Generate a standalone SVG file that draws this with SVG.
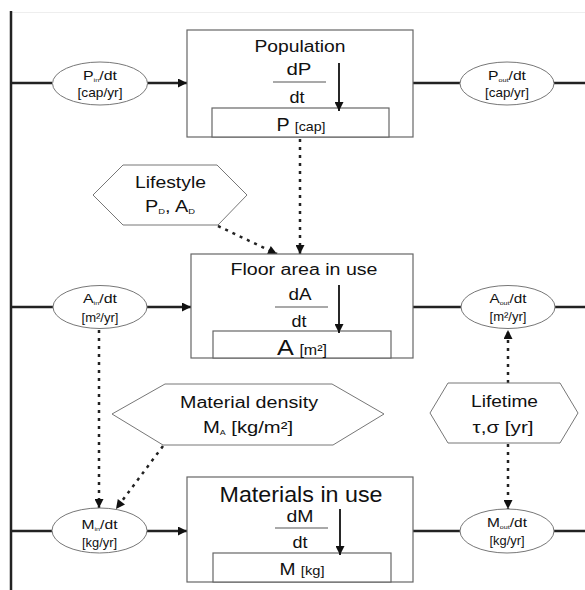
<svg xmlns="http://www.w3.org/2000/svg" width="585" height="590" viewBox="0 0 585 590">
<style>
  text { font-family: "Liberation Sans", Arial, sans-serif; fill: #111; text-anchor: middle; }
  .box { fill: #fff; stroke: #666; stroke-width: 1.2; }
  .ell { fill: #fff; stroke: #777; stroke-width: 1; }
  .hex { fill: #fff; stroke: #777; stroke-width: 1; }
  .flow { stroke: #222; stroke-width: 2.5; fill: none; }
  .dot { stroke: #222; stroke-width: 2.5; fill: none; stroke-dasharray: 3 5; }
  .frac { stroke: #555; stroke-width: 1.2; }
  .rate { stroke: #111; stroke-width: 1.8; }
</style>
<defs>
  <marker id="ah" viewBox="0 0 10 10" refX="10" refY="5" markerWidth="11" markerHeight="9" markerUnits="userSpaceOnUse" orient="auto">
    <path d="M0,0 L10,5 L0,10 z" fill="#111"/>
  </marker>
</defs>
<rect width="585" height="590" fill="#fff"/>
<line x1="11" y1="12.5" x2="585" y2="12.5" stroke="#eee" stroke-width="1"/>

<g id="connectors">
  <line class="flow" x1="11" y1="11" x2="11" y2="590"/>
  <line class="flow" x1="11" y1="83" x2="52" y2="83"/>
  <line class="flow" x1="147" y1="83" x2="187" y2="83" marker-end="url(#ah)"/>
  <line class="flow" x1="413" y1="83" x2="460" y2="83"/>
  <line class="flow" x1="554" y1="83" x2="585" y2="83"/>
  <line class="flow" x1="11" y1="307" x2="53" y2="307"/>
  <line class="flow" x1="147" y1="307" x2="191" y2="307" marker-end="url(#ah)"/>
  <line class="flow" x1="413" y1="307" x2="461" y2="307"/>
  <line class="flow" x1="555" y1="307" x2="585" y2="307"/>
  <line class="flow" x1="11" y1="531" x2="52" y2="531"/>
  <line class="flow" x1="147" y1="531" x2="187" y2="531" marker-end="url(#ah)"/>
  <line class="flow" x1="413" y1="531" x2="460" y2="531"/>
  <line class="flow" x1="554" y1="531" x2="585" y2="531"/>
  <line class="dot" x1="300" y1="139" x2="300" y2="254" marker-end="url(#ah)"/>
  <line class="dot" x1="218" y1="226" x2="277" y2="254" marker-end="url(#ah)"/>
  <line class="dot" x1="99" y1="330" x2="99" y2="508" marker-end="url(#ah)"/>
  <line class="dot" x1="163" y1="446" x2="116" y2="509" marker-end="url(#ah)"/>
  <line class="dot" x1="508" y1="383" x2="508" y2="330" marker-end="url(#ah)"/>
  <line class="dot" x1="508" y1="444" x2="508" y2="509" marker-end="url(#ah)"/>
</g>

<g id="population">
  <rect class="box" x="187" y="30" width="226" height="107"/>
  <rect class="box" x="212" y="108" width="177" height="29"/>
  <text x="300" y="52" font-size="16" textLength="91" lengthAdjust="spacingAndGlyphs">Population</text>
  <text x="299" y="75" font-size="16" textLength="25" lengthAdjust="spacingAndGlyphs">dP</text>
  <line class="frac" x1="273" y1="82" x2="326" y2="82"/>
  <text x="297" y="103" font-size="16" textLength="15" lengthAdjust="spacingAndGlyphs">dt</text>
  <line class="rate" x1="339" y1="63" x2="339" y2="111" marker-end="url(#ah)"/>
  <text x="301" y="131" font-size="18" textLength="49" lengthAdjust="spacingAndGlyphs">P <tspan font-size="13">[cap]</tspan></text>
</g>

<g id="floor-area">
  <rect class="box" x="191" y="254" width="222" height="104"/>
  <rect class="box" x="213" y="331" width="178" height="27"/>
  <text x="304" y="275" font-size="16" textLength="147" lengthAdjust="spacingAndGlyphs">Floor area in use</text>
  <text x="300" y="300" font-size="16" textLength="23" lengthAdjust="spacingAndGlyphs">dA</text>
  <line class="frac" x1="275" y1="307" x2="328" y2="307"/>
  <text x="299" y="327" font-size="16" textLength="15" lengthAdjust="spacingAndGlyphs">dt</text>
  <line class="rate" x1="339" y1="285" x2="339" y2="333" marker-end="url(#ah)"/>
  <text x="302" y="355" font-size="22" textLength="50" lengthAdjust="spacingAndGlyphs">A <tspan font-size="14">[m²]</tspan></text>
</g>

<g id="materials">
  <rect class="box" x="187" y="477" width="226" height="105"/>
  <rect class="box" x="213" y="553" width="178" height="29"/>
  <text x="301" y="502" font-size="22" textLength="163" lengthAdjust="spacingAndGlyphs">Materials in use</text>
  <text x="300" y="522" font-size="16" textLength="27" lengthAdjust="spacingAndGlyphs">dM</text>
  <line class="frac" x1="275" y1="528" x2="328" y2="528"/>
  <text x="300" y="548" font-size="16" textLength="15" lengthAdjust="spacingAndGlyphs">dt</text>
  <line class="rate" x1="340" y1="509" x2="340" y2="555" marker-end="url(#ah)"/>
  <text x="302" y="575" font-size="17" textLength="45" lengthAdjust="spacingAndGlyphs">M <tspan font-size="13">[kg]</tspan></text>
</g>

<g id="p-in">
  <ellipse class="ell" cx="100" cy="83.5" rx="47.5" ry="21.5"/>
  <text x="100" y="80" font-size="13" textLength="34" lengthAdjust="spacingAndGlyphs">P<tspan font-size="6" dy="2">in</tspan><tspan dy="-2">/dt</tspan></text>
  <text x="100" y="97" font-size="13" textLength="45" lengthAdjust="spacingAndGlyphs">[cap/yr]</text>
</g>
<g id="p-out">
  <ellipse class="ell" cx="507" cy="83.5" rx="47" ry="21.5"/>
  <text x="507" y="80" font-size="13" textLength="38" lengthAdjust="spacingAndGlyphs">P<tspan font-size="6" dy="2">out</tspan><tspan dy="-2">/dt</tspan></text>
  <text x="507" y="97" font-size="13" textLength="44" lengthAdjust="spacingAndGlyphs">[cap/yr]</text>
</g>
<g id="a-in">
  <ellipse class="ell" cx="100" cy="307" rx="47" ry="21.5"/>
  <text x="100" y="303" font-size="13" textLength="34" lengthAdjust="spacingAndGlyphs">A<tspan font-size="6" dy="2">in</tspan><tspan dy="-2">/dt</tspan></text>
  <text x="100" y="322" font-size="13" textLength="37" lengthAdjust="spacingAndGlyphs">[m²/yr]</text>
</g>
<g id="a-out">
  <ellipse class="ell" cx="508" cy="307" rx="47" ry="21.5"/>
  <text x="508" y="303" font-size="13" textLength="37" lengthAdjust="spacingAndGlyphs">A<tspan font-size="6" dy="2">out</tspan><tspan dy="-2">/dt</tspan></text>
  <text x="508" y="321" font-size="13" textLength="37" lengthAdjust="spacingAndGlyphs">[m²/yr]</text>
</g>
<g id="m-in">
  <ellipse class="ell" cx="99.5" cy="530.5" rx="47.5" ry="22.5"/>
  <text x="99.5" y="529" font-size="13" textLength="36" lengthAdjust="spacingAndGlyphs">M<tspan font-size="6" dy="2">in</tspan><tspan dy="-2">/dt</tspan></text>
  <text x="99.5" y="547" font-size="12" textLength="35" lengthAdjust="spacingAndGlyphs">[kg/yr]</text>
</g>
<g id="m-out">
  <ellipse class="ell" cx="507" cy="531" rx="47" ry="22"/>
  <text x="507" y="527" font-size="13" textLength="40" lengthAdjust="spacingAndGlyphs">M<tspan font-size="6" dy="2">out</tspan><tspan dy="-2">/dt</tspan></text>
  <text x="507" y="545" font-size="12" textLength="35" lengthAdjust="spacingAndGlyphs">[kg/yr]</text>
</g>

<g id="lifestyle">
  <polygon class="hex" points="123,165 217,165 247,195 218,225 123,225 93,195"/>
  <text x="170.5" y="188" font-size="17" textLength="71" lengthAdjust="spacingAndGlyphs">Lifestyle</text>
  <text x="170" y="212" font-size="17" textLength="50" lengthAdjust="spacingAndGlyphs">P<tspan font-size="8" dy="2">D</tspan><tspan dy="-2">, A</tspan><tspan font-size="8" dy="2">D</tspan></text>
</g>

<g id="material-density">
  <polygon class="hex" points="165,384 332,384 384,414 333,445 163,445 112,414"/>
  <text x="249" y="408" font-size="16" textLength="138" lengthAdjust="spacingAndGlyphs">Material density</text>
  <text x="248" y="433" font-size="16" textLength="90" lengthAdjust="spacingAndGlyphs">M<tspan font-size="7" dy="2">A</tspan><tspan dy="-2"> [kg/m²]</tspan></text>
</g>

<g id="lifetime">
  <polygon class="hex" points="448,383 560,383 578,413 560,443 448,443 430,413"/>
  <text x="504.5" y="407" font-size="16" textLength="67" lengthAdjust="spacingAndGlyphs">Lifetime</text>
  <text x="503" y="433" font-size="16" textLength="61" lengthAdjust="spacingAndGlyphs">τ,σ [yr]</text>
</g>
</svg>
